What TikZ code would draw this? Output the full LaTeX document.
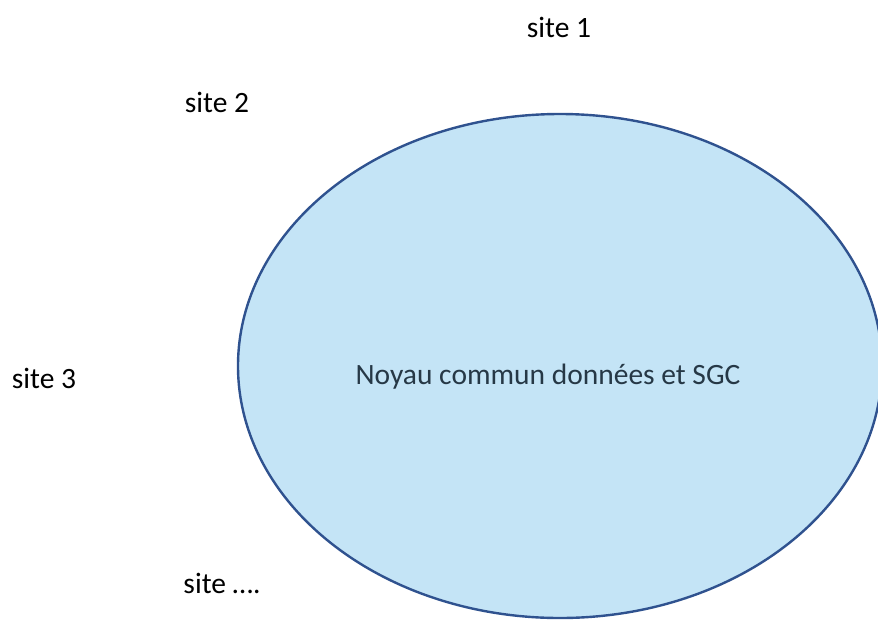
\documentclass[tikz,border=0pt]{standalone}
\usepackage{fontspec}
\setmainfont{Carlito}
\usetikzlibrary{positioning}
\definecolor{noyaufill}{RGB}{196,228,246}
\definecolor{noyauedge}{RGB}{47,82,143}
\definecolor{noyautext}{RGB}{38,56,70}
\tikzset{site/.style={font=\fontsize{29.5}{34}\selectfont, inner sep=0pt}}

\begin{document}
\begin{tikzpicture}[x=1pt,y=-1pt]
            \useasboundingbox (0,0) rectangle (878,619);
            \begin{scope}
            \clip (0,0) rectangle (878,619);
            \draw[noyauedge, line width=2.4pt, fill=noyaufill] (560,366) ellipse (322 and 252);
            \end{scope}

            \node[site, text=noyautext] (noyau) at (548,377) {Noyau commun données et SGC};

            \node[site] (s1) at (559,27) {site 1};
            \node[site] (s2) at (217,102) {site 2};
            \node[site] (s3) at (44,378) {site 3};
            \node[site] (s4) at (222,583) {site ….};
        \end{tikzpicture}
\end{document}
